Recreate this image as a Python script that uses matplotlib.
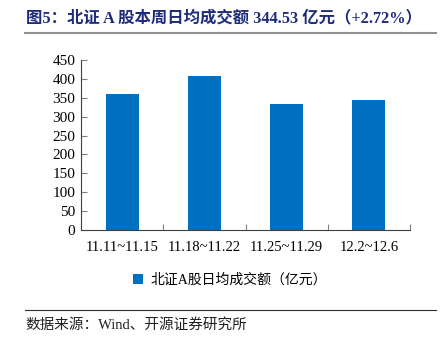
import matplotlib
matplotlib.use("Agg")
import matplotlib.pyplot as plt
from matplotlib.lines import Line2D

plt.rcParams['font.family'] = ['Liberation Serif', 'Noto Sans CJK SC']

weeks = ['11.11~11.15', '11.18~11.22', '11.25~11.29', '12.2~12.6']
turnover = [359, 407, 333, 344.53]
series_name = '北证A股日均成交额（亿元）'
title = '图5：北证 A 股本周日均成交额 344.53 亿元（+2.72%）'
source = '数据来源：Wind、开源证券研究所'

fig = plt.figure(figsize=(4.41, 3.42), dpi=100)
ax = fig.add_axes([81 / 441, 1 - 230 / 342, 329 / 441, 170 / 342])

x = range(len(weeks))
bars = ax.bar(x, turnover, width=0.4, color='#0070C0', label=series_name)

ax.set_xlim(-0.5, len(weeks) - 0.5)
ax.set_ylim(0, 450)
ax.set_yticks(range(0, 451, 50))
# separators between categories as major ticks, labels on minor ticks
ax.set_xticks([i + 0.5 for i in range(-1, len(weeks))], minor=False)
ax.set_xticklabels([])
ax.set_xticks(list(x), minor=True)
ax.set_xticklabels(weeks, minor=True)
ax.tick_params(axis='x', which='major', length=4, direction='in', color='#808080')
ax.tick_params(axis='x', which='minor', length=0, pad=8, labelsize=10.5)
ax.tick_params(axis='y', length=4, direction='in', color='#808080', labelsize=11, pad=4)
for side in ['top', 'right']:
    ax.spines[side].set_visible(False)
for side in ['left', 'bottom']:
    ax.spines[side].set_color('#404040')
    ax.spines[side].set_linewidth(0.8)

fig.legend(handles=[bars], labels=[series_name], loc='center', bbox_to_anchor=(230 / 441, 1 - 280 / 342),
           frameon=False, fontsize=10, handlelength=0.7, handleheight=0.7, handletextpad=0.5)

fig.text(26 / 441, 1 - 18 / 342, title, fontsize=11.8, fontweight='bold', color='#1E2C7A',
         va='center', ha='left')
fig.add_artist(Line2D([25 / 441, 436 / 441], [1 - 33 / 342, 1 - 33 / 342], color='#909090', lw=1.5))
fig.add_artist(Line2D([25 / 441, 436 / 441], [1 - 310 / 342, 1 - 310 / 342], color='#303030', lw=0.8))
fig.text(25 / 441, 1 - 325 / 342, source, fontsize=10.5, color='#202020', va='center', ha='left')

fig.savefig('out.png', dpi=100)
